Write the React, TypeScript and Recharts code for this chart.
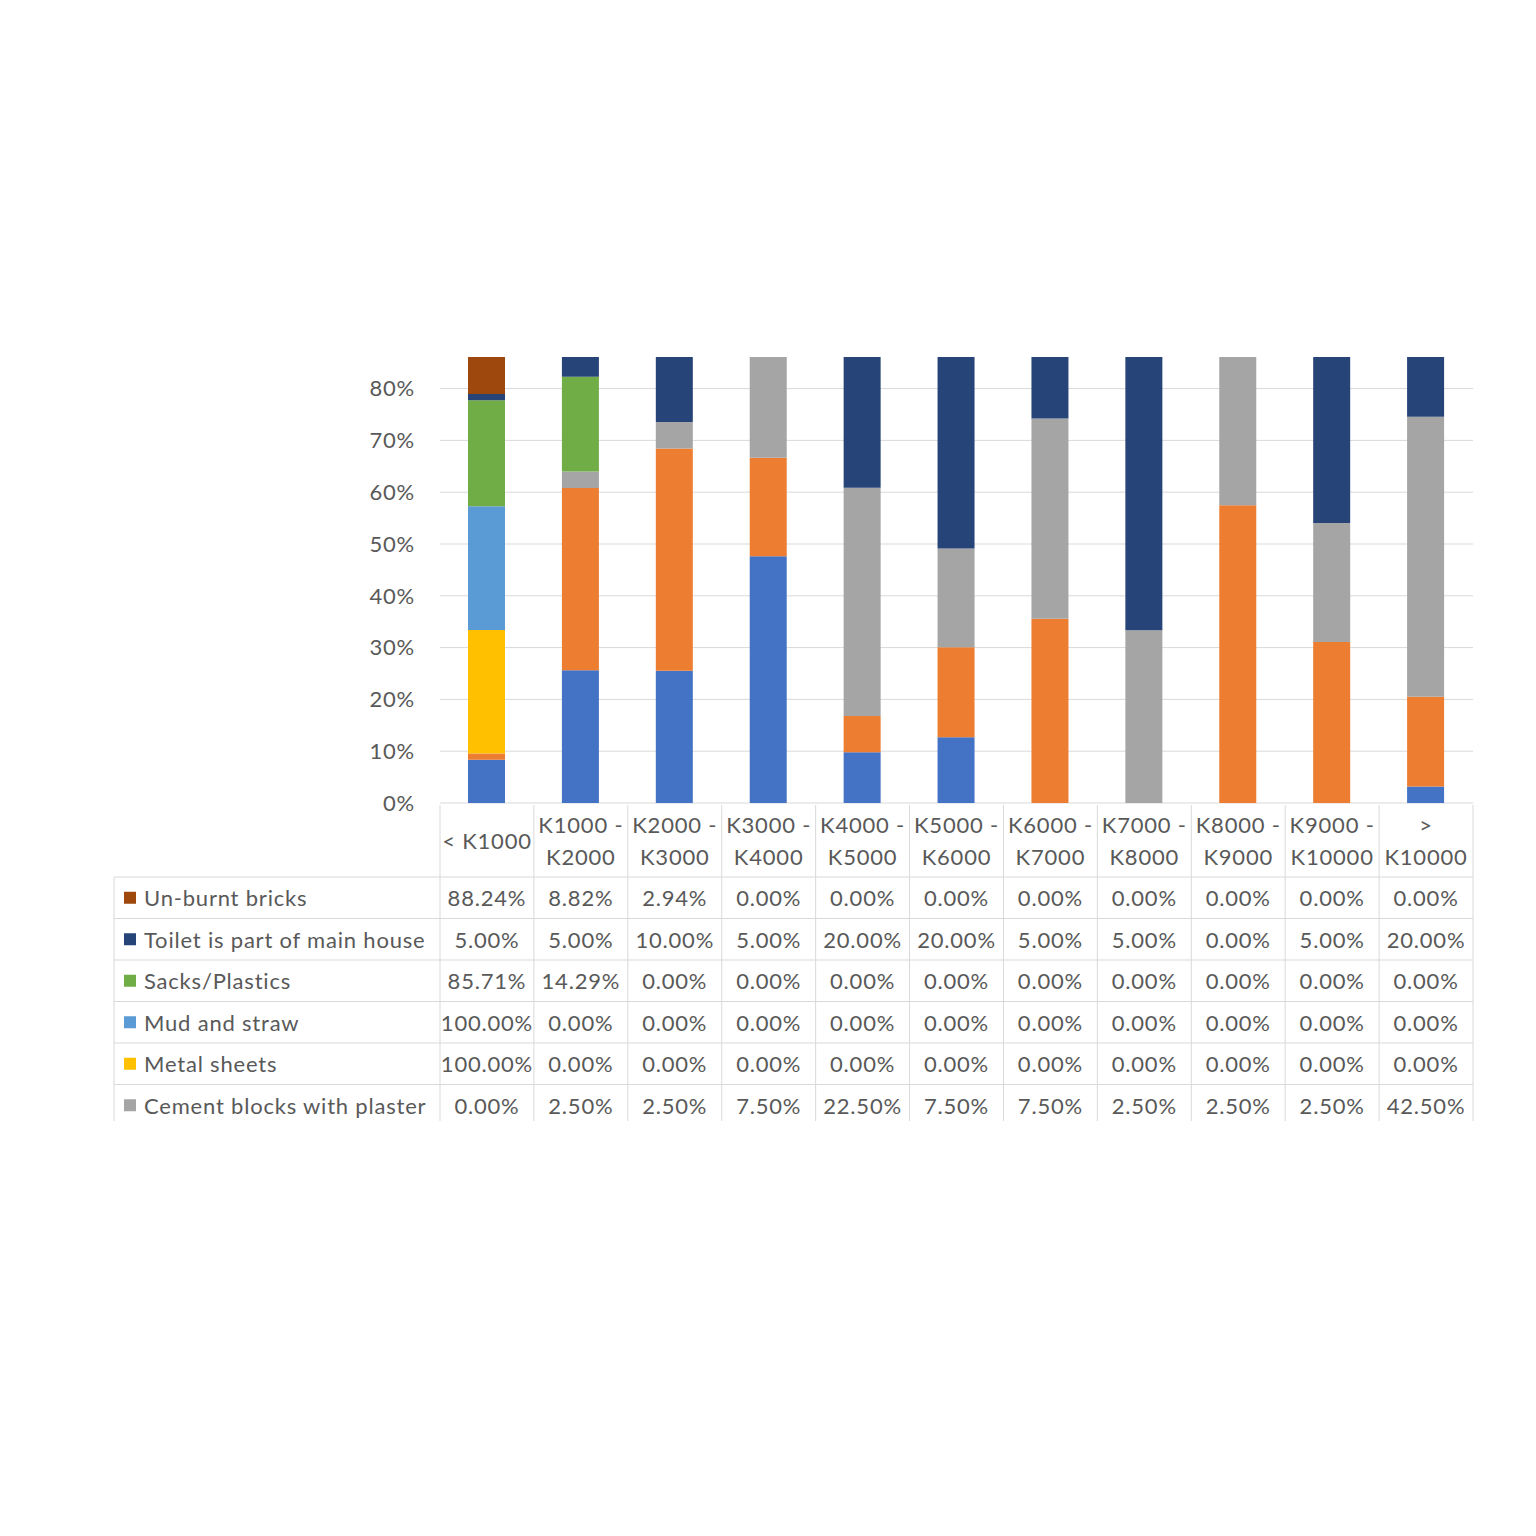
import React from 'react'
import { BarChart, Bar, XAxis, YAxis, CartesianGrid } from 'recharts'

// income bands (header lines of the data table)
const categories = [
  '< K1000',
  'K1000 -\nK2000',
  'K2000 -\nK3000',
  'K3000 -\nK4000',
  'K4000 -\nK5000',
  'K5000 -\nK6000',
  'K6000 -\nK7000',
  'K7000 -\nK8000',
  'K8000 -\nK9000',
  'K9000 -\nK10000',
  '>\nK10000',
]

// bottom two series: their table rows are cut off in the picture
const burntBricks = [35, 20, 12.5, 17.86, 5, 5, 0, 0, 0, 0, 2.5]
const cementNoPlaster = [5, 27.5, 21, 7.14, 3.57, 6.82, 6.9, 0, 3.38, 3.38, 13.64]
// rows visible in the data table
const cementPlaster = [0, 2.5, 2.5, 7.5, 22.5, 7.5, 7.5, 2.5, 2.5, 2.5, 42.5]
const metalSheets = [100, 0, 0, 0, 0, 0, 0, 0, 0, 0, 0]
const mudStraw = [100, 0, 0, 0, 0, 0, 0, 0, 0, 0, 0]
const sacksPlastics = [85.71, 14.29, 0, 0, 0, 0, 0, 0, 0, 0, 0]
const toiletMainHouse = [5, 5, 10, 5, 20, 20, 5, 5, 0, 5, 20]
const unburntBricks = [88.24, 8.82, 2.94, 0, 0, 0, 0, 0, 0, 0, 0]

const yTicks = [0, 0.1, 0.2, 0.3, 0.4, 0.5, 0.6, 0.7, 0.8]

const series = [
  { key: 'burnt', name: 'Burnt bricks', color: '#4472C4', values: burntBricks },
  { key: 'noPlaster', name: 'Cement blocks without plaster', color: '#ED7D31', values: cementNoPlaster },
  { key: 'plaster', name: 'Cement blocks with plaster', color: '#A5A5A5', values: cementPlaster },
  { key: 'metal', name: 'Metal sheets', color: '#FFC000', values: metalSheets },
  { key: 'mud', name: 'Mud and straw', color: '#5B9BD5', values: mudStraw },
  { key: 'sacks', name: 'Sacks/Plastics', color: '#70AD47', values: sacksPlastics },
  { key: 'toilet', name: 'Toilet is part of main house', color: '#264478', values: toiletMainHouse },
  { key: 'unburnt', name: 'Un-burnt bricks', color: '#9E480E', values: unburntBricks },
]

// table rows, top to bottom, as in the picture
const tableRows = ['unburnt', 'toilet', 'sacks', 'mud', 'metal', 'plaster'].map(
  (k) => series.find((s) => s.key === k)!
)

const data = categories.map((c, i) => {
  const row: Record<string, any> = { band: c }
  series.forEach((s) => (row[s.key] = s.values[i]))
  return row
})

const PLOT_LEFT = 440
const PLOT_RIGHT = 1473
const PLOT_TOP = 285 // 100% line; the picture is cut off above 357
const CUT_Y = 357
const COL_W = (PLOT_RIGHT - PLOT_LEFT) / categories.length
const TABLE_LEFT = 114
const HEADER_H = 74
const ROW_H = 41.5
const TEXT = '#595959'
const GRID = '#D9D9D9'
const FONT = 'Lato, "Open Sans", sans-serif'
const SPACING = 0.8

const TableColumn = (props: any) => {
  const { x, y, payload, index } = props
  const left = x - COL_W / 2
  const bottom = y + HEADER_H + ROW_H * tableRows.length - 5
  const lines: string[] = String(payload.value).split('\n')
  const headerMid = y + HEADER_H / 2
  return (
    <g fontFamily={FONT} fontSize={22} fill={TEXT} letterSpacing={SPACING}>
      <line x1={left} x2={left} y1={y + 2} y2={bottom} stroke={GRID} />
      {index === categories.length - 1 && (
        <line x1={left + COL_W} x2={left + COL_W} y1={y + 2} y2={bottom} stroke={GRID} />
      )}
      {lines.map((t, i) => (
        <text
          key={i}
          x={x}
          y={headerMid + (i - (lines.length - 1) / 2) * 32}
          textAnchor="middle"
          dominantBaseline="central"
        >
          {t}
        </text>
      ))}
      {tableRows.map((s, r) => (
        <text
          key={s.key}
          x={x}
          y={y + HEADER_H + ROW_H * (r + 0.5)}
          textAnchor="middle"
          dominantBaseline="central"
        >
          {s.values[index].toFixed(2) + '%'}
        </text>
      ))}
      {index === 0 && (
        <g>
          <line x1={TABLE_LEFT} x2={TABLE_LEFT} y1={y + HEADER_H} y2={bottom} stroke={GRID} />
          {tableRows.map((s, r) => (
            <line
              key={'h' + s.key}
              x1={TABLE_LEFT}
              x2={PLOT_RIGHT}
              y1={y + HEADER_H + ROW_H * r}
              y2={y + HEADER_H + ROW_H * r}
              stroke={GRID}
            />
          ))}
          {tableRows.map((s, r) => {
            const cy = y + HEADER_H + ROW_H * (r + 0.5)
            return (
              <g key={'l' + s.key}>
                <rect x={TABLE_LEFT + 10} y={cy - 6} width={12} height={12} fill={s.color} />
                <text x={TABLE_LEFT + 30} y={cy} dominantBaseline="central">
                  {s.name}
                </text>
              </g>
            )
          })}
        </g>
      )}
    </g>
  )
}

export default function App() {
  return (
    <div style={{ position: 'absolute', left: 0, top: 0, width: 1536, height: 1536, background: '#fff' }}>
      <BarChart
        width={1536}
        height={1200}
        data={data}
        stackOffset="expand"
        margin={{ top: PLOT_TOP, right: 1536 - PLOT_RIGHT, bottom: 0, left: 0 }}
      >
        <CartesianGrid vertical={false} stroke={GRID} />
        <XAxis
          dataKey="band"
          height={397}
          interval={0}
          axisLine={false}
          tickLine={false}
          tickSize={0}
          tickMargin={0}
          tick={<TableColumn />}
        />
        <YAxis
          width={PLOT_LEFT}
          ticks={yTicks}
          tickFormatter={(v: number) => `${Math.round(v * 100)}%`}
          axisLine={false}
          tickLine={false}
          tickSize={0}
          tickMargin={25}
          tick={{ fill: TEXT, fontSize: 22, fontFamily: FONT, letterSpacing: SPACING }}
        />
        {series.map((s) => (
          <Bar
            key={s.key}
            dataKey={s.key}
            name={s.name}
            stackId="a"
            fill={s.color}
            barSize={37}
            isAnimationActive={false}
          />
        ))}
      </BarChart>
      {/* the source image is cropped just above the 80% line */}
      <div
        style={{ position: 'absolute', left: 0, top: 0, width: 1536, height: CUT_Y, background: '#fff', zIndex: 1 }}
      />
    </div>
  )
}
